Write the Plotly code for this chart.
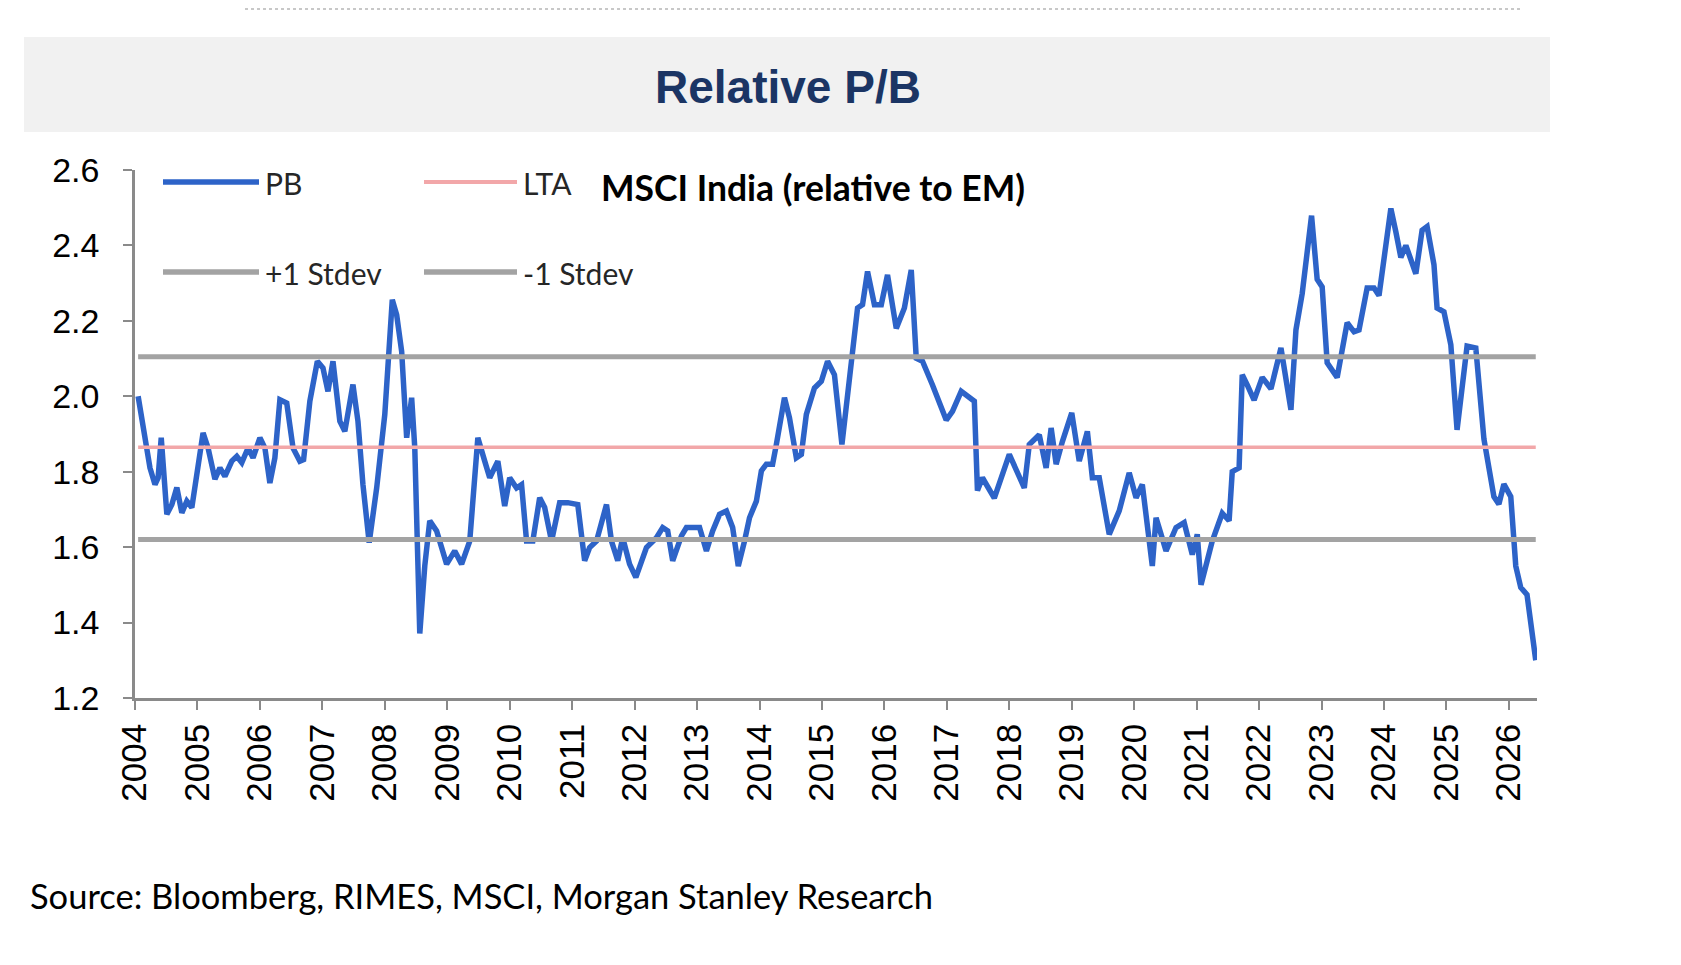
import plotly.graph_objects as go

# ---------------- data ----------------
pb_time = [
    2004.05, 2004.13, 2004.24, 2004.32, 2004.37, 2004.42, 2004.45, 2004.51, 2004.59, 2004.67,
    2004.75, 2004.83, 2004.91, 2004.99, 2005.09, 2005.17, 2005.28, 2005.36, 2005.44, 2005.55,
    2005.63, 2005.71, 2005.81, 2005.89, 2006.00, 2006.08, 2006.16, 2006.24, 2006.32, 2006.43,
    2006.53, 2006.64, 2006.70, 2006.80, 2006.92, 2007.01, 2007.09, 2007.17, 2007.28, 2007.36,
    2007.49, 2007.57, 2007.65, 2007.75, 2007.87, 2008.00, 2008.08, 2008.12, 2008.19, 2008.27,
    2008.35, 2008.43, 2008.48, 2008.56, 2008.64, 2008.72, 2008.83, 2008.99, 2009.12, 2009.23,
    2009.36, 2009.49, 2009.60, 2009.68, 2009.81, 2009.92, 2010.00, 2010.11, 2010.19, 2010.27,
    2010.37, 2010.48, 2010.56, 2010.67, 2010.80, 2010.93, 2011.09, 2011.20, 2011.28, 2011.39,
    2011.55, 2011.63, 2011.73, 2011.81, 2011.92, 2012.02, 2012.19, 2012.35, 2012.45, 2012.53,
    2012.61, 2012.75, 2012.83, 2012.93, 2013.04, 2013.15, 2013.25, 2013.36, 2013.47, 2013.57,
    2013.66, 2013.76, 2013.84, 2013.95, 2014.03, 2014.11, 2014.21, 2014.27, 2014.40, 2014.48,
    2014.59, 2014.67, 2014.75, 2014.88, 2014.99, 2015.09, 2015.20, 2015.32, 2015.41, 2015.49,
    2015.57, 2015.65, 2015.73, 2015.84, 2015.95, 2016.05, 2016.19, 2016.32, 2016.43, 2016.51,
    2016.61, 2016.77, 2016.99, 2017.09, 2017.23, 2017.44, 2017.49, 2017.57, 2017.76, 2018.00,
    2018.24, 2018.32, 2018.48, 2018.59, 2018.67, 2018.75, 2018.85, 2019.00, 2019.12, 2019.25,
    2019.33, 2019.44, 2019.60, 2019.76, 2019.92, 2020.03, 2020.13, 2020.29, 2020.35, 2020.51,
    2020.67, 2020.80, 2020.93, 2021.01, 2021.07, 2021.25, 2021.41, 2021.52, 2021.57, 2021.68,
    2021.73, 2021.81, 2021.92, 2022.05, 2022.19, 2022.35, 2022.51, 2022.59, 2022.69, 2022.84,
    2022.93, 2023.01, 2023.09, 2023.25, 2023.41, 2023.52, 2023.60, 2023.73, 2023.84, 2023.92,
    2024.11, 2024.19, 2024.27, 2024.35, 2024.51, 2024.61, 2024.69, 2024.80, 2024.85, 2024.96,
    2025.07, 2025.17, 2025.33, 2025.47, 2025.60, 2025.76, 2025.84, 2025.92, 2026.03, 2026.11,
    2026.19, 2026.29, 2026.43,
]
pb_value = [
    2.000, 1.925, 1.810, 1.766, 1.784, 1.890, 1.820, 1.687, 1.713, 1.758,
    1.691, 1.722, 1.705, 1.793, 1.903, 1.863, 1.780, 1.810, 1.788, 1.828,
    1.841, 1.824, 1.863, 1.837, 1.890, 1.863, 1.770, 1.837, 1.991, 1.982,
    1.863, 1.828, 1.832, 1.987, 2.093, 2.075, 2.013, 2.093, 1.934, 1.907,
    2.031, 1.934, 1.766, 1.612, 1.757, 1.952, 2.128, 2.256, 2.216, 2.119,
    1.890, 1.996, 1.863, 1.371, 1.550, 1.670, 1.643, 1.555, 1.590, 1.555,
    1.616, 1.890, 1.828, 1.784, 1.828, 1.709, 1.784, 1.757, 1.766, 1.616,
    1.616, 1.731, 1.705, 1.616, 1.718, 1.718, 1.713, 1.564, 1.599, 1.616,
    1.713, 1.616, 1.564, 1.625, 1.555, 1.520, 1.599, 1.625, 1.652, 1.643,
    1.564, 1.630, 1.652, 1.652, 1.652, 1.590, 1.643, 1.687, 1.696, 1.652,
    1.550, 1.616, 1.678, 1.722, 1.802, 1.820, 1.820, 1.872, 1.996, 1.943,
    1.837, 1.846, 1.952, 2.022, 2.040, 2.093, 2.057, 1.872, 1.996, 2.110,
    2.234, 2.243, 2.331, 2.243, 2.243, 2.322, 2.180, 2.234, 2.335, 2.101,
    2.093, 2.030, 1.937, 1.960, 2.013, 1.987, 1.750, 1.784, 1.730, 1.846,
    1.757, 1.872, 1.898, 1.810, 1.916, 1.820, 1.880, 1.956, 1.828, 1.907,
    1.784, 1.784, 1.634, 1.696, 1.797, 1.731, 1.766, 1.550, 1.678, 1.590,
    1.652, 1.665, 1.580, 1.634, 1.500, 1.616, 1.690, 1.670, 1.800, 1.810,
    2.057, 2.030, 1.990, 2.050, 2.020, 2.128, 1.964, 2.176, 2.272, 2.479,
    2.310, 2.290, 2.089, 2.050, 2.195, 2.171, 2.176, 2.287, 2.287, 2.267,
    2.498, 2.436, 2.368, 2.400, 2.325, 2.440, 2.450, 2.349, 2.234, 2.224,
    2.137, 1.911, 2.133, 2.128, 1.887, 1.734, 1.714, 1.767, 1.734, 1.550,
    1.493, 1.474, 1.300,
]
lta_value = 1.865
plus1_value = 2.105
minus1_value = 1.620

year_ticks = list(range(2004, 2027))
year_labels = [str(y) for y in year_ticks]
y_ticks = [1.2, 1.4, 1.6, 1.8, 2.0, 2.2, 2.4, 2.6]

title_text = "Relative P/B"
subtitle_text = "MSCI India (relative to EM)"
source_text = "Source: Bloomberg, RIMES, MSCI, Morgan Stanley Research"
legend_names = ["PB", "LTA", "+1 Stdev", "-1 Stdev"]

# ---------------- styling ----------------
W, H = 1681, 965
ML, MR, MT, MB = 135, 144, 170, 267
PW = W - ML - MR
PH = H - MT - MB

BLUE = "#2D63C8"
PINK = "#F2A7A9"
GREY = "#A3A3A3"
AXIS = "#8A8A8A"
NAVY = "#1B3564"
TXT_FONT = "Lato, Calibri, Carlito, sans-serif"
NUM_FONT = "Liberation Sans, Arial, sans-serif"


def px(x):
    return (x - ML) / PW


def py(y):
    return (H - MB - y) / PH


x_start, x_end = pb_time[0], pb_time[-1]

fig = go.Figure()
fig.add_trace(go.Scatter(x=pb_time, y=pb_value, mode="lines", name="PB",
                         line=dict(color=BLUE, width=5.5), showlegend=False))
fig.add_trace(go.Scatter(x=[x_start, x_end], y=[lta_value, lta_value], mode="lines",
                         name="LTA", line=dict(color=PINK, width=3.5), showlegend=False))
fig.add_trace(go.Scatter(x=[x_start, x_end], y=[plus1_value, plus1_value], mode="lines",
                         name="+1 Stdev", line=dict(color=GREY, width=5), showlegend=False))
fig.add_trace(go.Scatter(x=[x_start, x_end], y=[minus1_value, minus1_value], mode="lines",
                         name="-1 Stdev", line=dict(color=GREY, width=5), showlegend=False))

shapes = []
annotations = []

# title band
shapes.append(dict(type="rect", xref="paper", yref="paper", x0=px(24), x1=px(1550),
                   y0=py(132), y1=py(37), fillcolor="#F1F1F1", line=dict(width=0), layer="below"))
# faint dotted line at very top
shapes.append(dict(type="line", xref="paper", yref="paper", x0=px(245), x1=px(1522),
                   y0=py(9), y1=py(9), line=dict(color="#C8C8C8", width=2, dash="dot")))

annotations.append(dict(text=title_text, xref="paper", yref="paper", x=px(788), y=py(87),
                        xanchor="center", yanchor="middle", showarrow=False,
                        font=dict(family=NUM_FONT, size=46, color=NAVY, weight="bold")))

# manual legend
leg_items = [
    (legend_names[0], BLUE, 5.5, 163, 259, 182),
    (legend_names[1], PINK, 4, 424, 517, 182),
    (legend_names[2], GREY, 5.5, 163, 259, 272),
    (legend_names[3], GREY, 5.5, 424, 517, 272),
]
for name, col, wdt, x0, x1, yy in leg_items:
    shapes.append(dict(type="line", xref="paper", yref="paper", x0=px(x0), x1=px(x1),
                       y0=py(yy), y1=py(yy), line=dict(color=col, width=wdt)))
    annotations.append(dict(text=name, xref="paper", yref="paper", x=px(x1 + 4), y=py(yy + 1),
                            xanchor="left", yanchor="middle", showarrow=False,
                            font=dict(family=TXT_FONT, size=30, color="#262626")))

annotations.append(dict(text="<b>" + subtitle_text + "</b>", xref="paper", yref="paper",
                        x=px(599), y=py(187), xanchor="left", yanchor="middle", showarrow=False,
                        font=dict(family=TXT_FONT, size=35.5, color="#000000")))

annotations.append(dict(text=source_text, xref="paper", yref="paper", x=px(28), y=py(895),
                        xanchor="left", yanchor="middle", showarrow=False,
                        font=dict(family=TXT_FONT, size=34.5, color="#000000")))

fig.update_layout(
    width=W, height=H, autosize=False,
    margin=dict(l=ML, r=MR, t=MT, b=MB, pad=0),
    paper_bgcolor="white", plot_bgcolor="white",
    showlegend=False,
    shapes=shapes, annotations=annotations,
)
fig.update_xaxes(range=[2004, 2026.45], tickmode="array", tickvals=year_ticks, ticktext=year_labels,
                 tickangle=-90, ticks="outside", ticklen=9, tickwidth=2, tickcolor=AXIS,
                 showline=True, linecolor=AXIS, linewidth=2.5, showgrid=False, zeroline=False,
                 tickfont=dict(family=NUM_FONT, size=35, color="#000000"), ticklabelstandoff=0)
fig.update_yaxes(range=[1.2, 2.6], tickmode="array", tickvals=y_ticks, tickformat=".1f",
                 ticks="outside", ticklen=9, tickwidth=2, tickcolor=AXIS,
                 showline=True, linecolor=AXIS, linewidth=2.5, showgrid=False, zeroline=False,
                 tickfont=dict(family=NUM_FONT, size=34, color="#000000"), ticklabelstandoff=17)

fig.write_html("out.html")
